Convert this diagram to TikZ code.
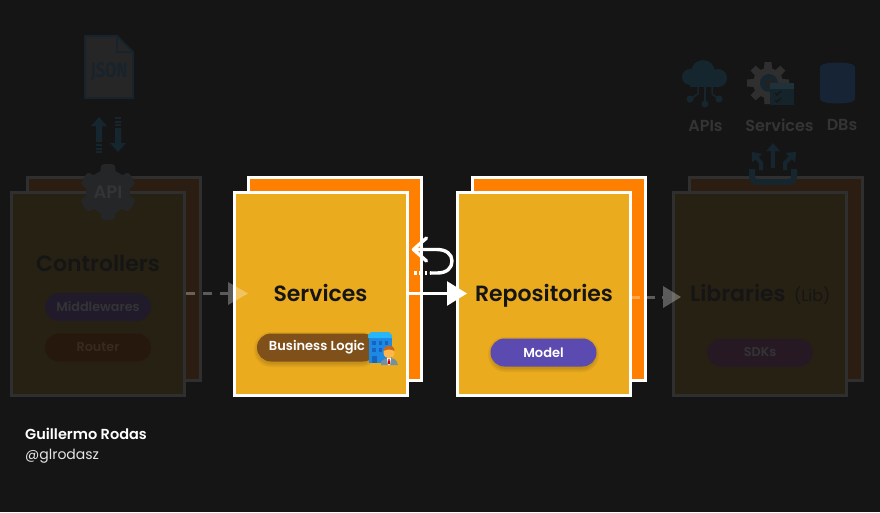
\documentclass[tikz,border=0pt]{standalone}
\usepackage{fontspec}
\setmainfont{Poppins}
\newfontfamily\med{Poppins Medium}
\newfontfamily\semi{Poppins SemiBold}
\newfontfamily\cond{Fira Sans}
\usetikzlibrary{arrows.meta,shapes.misc,calc}
\definecolor{bgc}{HTML}{151515}
\definecolor{yel}{HTML}{EAAB1F}
\definecolor{org}{HTML}{FF7F00}
\definecolor{dimyel}{HTML}{272113}
\definecolor{dimorg}{HTML}{2B1D12}
\definecolor{dimline}{HTML}{2F2F2F}
\definecolor{dimtxt}{HTML}{343434}
\definecolor{dimblue}{HTML}{15262F}
\definecolor{dimdoc}{HTML}{18232B}
\definecolor{dimdb}{HTML}{172436}
\definecolor{docfill}{HTML}{262627}
\definecolor{dimmid}{HTML}{211A2B}
\definecolor{dimrou}{HTML}{27180E}
\definecolor{dimrout}{HTML}{382A20}
\definecolor{dimsdk}{HTML}{261924}
\definecolor{biz}{HTML}{80501B}
\definecolor{mdl}{HTML}{5B4BB0}
\definecolor{gearc}{HTML}{242628}
\definecolor{bldg}{HTML}{1E88E5}
\definecolor{roof}{HTML}{29B6F6}
\definecolor{wind}{HTML}{1565C0}
\definecolor{suit}{HTML}{78909C}
\definecolor{skin}{HTML}{FFB74D}
\definecolor{hair}{HTML}{BF6A1E}
\tikzset{
 x=1pt,y=-1pt,
 card/.style={draw=white,line width=3pt,minimum width=173pt,minimum height=203pt,inner sep=0pt},
 frontcard/.style={card,fill=yel},
 backcard/.style={card,fill=org},
 dimfront/.style={card,draw=dimline,fill=dimyel},
 dimback/.style={card,draw=dimline,fill=dimorg},
 title/.style={inner sep=0pt,anchor=base,font=\semi\fontsize{22}{26}\selectfont,text=bgc},
 pill/.style={rounded rectangle,minimum width=106pt,minimum height=28pt,inner sep=0pt,font=\semi\fontsize{13}{15}\selectfont,text=white},
 dimpill/.style={pill,text=dimtxt,font=\semi\fontsize{12.8}{15}\selectfont},
 ghost/.style={draw=white,draw opacity=.3,line width=3pt,dash pattern=on 9pt off 8pt},
 ghosthead/.style={fill=white,fill opacity=.3},
 strong/.style={draw=white,line width=3.4pt,line cap=round},
 icontext/.style={inner sep=0pt,font=\semi\fontsize{16}{18}\selectfont,text=dimtxt},
 iconline/.style={draw=dimblue,line width=3pt},
 softshadow/.style={fill=black,opacity=.05},
}
\begin{document}
\begin{tikzpicture}
\fill[bgc] (0,0) rectangle (880,512);
\useasboundingbox (0,0) rectangle (880,512);

% cards
\node[dimback] (ctlb) at (114,278.5) {};
\node[dimfront] (ctl) at (98,293.5) {};
\node[backcard] (svcb) at (335,278.5) {};
\node[frontcard] (svc) at (321,293.5) {};
\node[backcard] (repb) at (559,278.5) {};
\node[frontcard] (rep) at (544,293.5) {};
\node[dimback] (libb) at (776,278.5) {};
\node[dimfront] (lib) at (760,293.5) {};

% titles
\node[title] (tctl) at (98,271) {Controllers};
\node[title] (tsvc) at (320.5,301) {Services};
\node[title] (trep) at (544,301) {Repositories};
\node[title,anchor=base west] (tlib) at (690,301) {Libraries};
\node[title,anchor=base west,font=\fontsize{16}{18}\selectfont] (tlib2) at (794,301) {(Lib)};

% pill shadows
\foreach \sg in {0,1.5,3}{
\fill[softshadow,rounded corners=14pt+\sg] (257-\sg,335-\sg) rectangle (375+\sg,364+\sg);
\fill[softshadow,rounded corners=14pt+\sg] (491-\sg,340-\sg) rectangle (596+\sg,369+\sg);
}
% pills
\node[dimpill,fill=dimmid] (mid) at (98,307) {Middlewares};
\node[dimpill,fill=dimrou,text=dimrout] (rou) at (98,347.5) {Router};
\node[dimpill,fill=dimsdk] (sdk) at (760,352.5) {SDKs};
\node[pill,fill=mdl] (mod) at (543.5,352.5) {Model};
\node[pill,fill=biz,minimum width=120pt] (bl) at (317,347.5) {Business Logic};

% emoji: building and person
\fill[bldg] (369,336) rectangle (392,363);
\fill[roof] (368,335) -- (371,332) -- (389,332) -- (392,335) -- (392,338) -- (368,338) -- cycle;
\foreach \wx in {372,378.5,384.5}{\foreach \wy in {341,348}{\fill[wind] (\wx,\wy) rectangle +(3.5,3.5);}}
\fill[wind] (372,356) rectangle (377,363);
\fill[suit] (381,365) -- (381,362) .. controls (383,359) and (386,358) .. (389,358) .. controls (393,358) and (397,359) .. (398,365) -- cycle;
\fill[white] (387,358) -- (391,358) -- (390,365) -- (388,365) -- cycle;
\fill[red!80!black] (388.4,359) -- (389.6,359) -- (390,364) -- (388,364) -- cycle;
\fill[skin] (389,352.5) circle[x radius=5.5pt,y radius=6pt];
\fill[hair] (383.5,351) .. controls (383.5,343.5) and (394.5,343.5) .. (394.5,351) .. controls (391,349) and (387,349) .. (383.5,351) -- cycle;

% connectors
\draw[ghost] (ctl.east) -- ++(42,0);
\fill[ghosthead] (228,282) -- (248,293.5) -- (228,305) -- cycle;
\coordinate (r2) at ($(rep.east)+(0,3.5)$);
\draw[ghost,dash pattern=on 8pt off 7pt] (r2) -- ++(31,0);
\fill[ghosthead] (663,286) -- (681,297) -- (663,308) -- cycle;
\draw[draw=white,line width=2.5pt,-{Triangle[length=20pt,width=24pt]},shorten >=-11pt] (svc.east) -- (rep.west);
% self loop
\coordinate (l0) at (414,273);
\coordinate (l1) at (431,273);
\coordinate (l2) at (413.5,249.5);
\draw[draw=white,line width=3.2pt,dash pattern=on 2.5pt off 2.8pt] (l0) -- (l1);
\draw[strong,line join=round] (l1) -- (437,273) .. controls (447,273) and (452,268) .. (452,261) .. controls (452,254) and (446,249.5) .. (437,249.5) -- (l2);
\draw[strong,line join=round] (426.5,238) -- (l2) -- (426.5,261);

% JSON file
\path[fill=docfill,draw=dimdoc,line width=2pt] (85,36) -- (117,36) -- (133,52) -- (133,98) -- (85,98) -- cycle;
\draw[draw=dimdoc,line width=2pt] (117,36) -- (117,52) -- (133,52);
\node[inner sep=0pt,font=\cond\bfseries\fontsize{21}{22}\selectfont,text=dimdoc,xscale=.78] (json) at (109,72) {JSON};
% up/down arrows
\fill[dimblue] (99,117) -- (107,126) -- (102,126) -- (102,142) -- (96,142) -- (96,126) -- (91,126) -- cycle;
\foreach \sy in {144,147.5,151}{\fill[dimblue] (96,\sy) rectangle (102,\sy+2);}
\fill[dimblue] (118,152) -- (126,143) -- (121,143) -- (121,128) -- (115,128) -- (115,143) -- (110,143) -- cycle;
\foreach \sy in {117,120.5,124}{\fill[dimblue] (115,\sy) rectangle (121,\sy+2);}

% API gear
\fill[gearc] (108,192) circle[radius=22pt];
\foreach \ga in {0,60,...,300}{\fill[gearc,rotate around={\ga:(108,192)},rounded corners=3pt] (99,192) -- (101,164) -- (115,164) -- (117,192) -- cycle;}
\node[inner sep=0pt,font=\semi\fontsize{18}{20}\selectfont,text=dimtxt] (api) at (108,192) {API};

% cloud
\fill[dimblue] (690,77) circle[radius=8pt];
\fill[dimblue] (703,72) circle[radius=12pt];
\fill[dimblue] (718,78) circle[radius=9pt];
\fill[dimblue] (690,74) rectangle (718,87);
\draw[iconline,line width=1.5pt] (705,87) -- (705,104);
\draw[iconline,line width=1.5pt] (698,87) -- (698,94) -- (690,99);
\draw[iconline,line width=1.5pt] (712,87) -- (712,94) -- (719,99);
\foreach \cx/\cy in {690/99,705/104,719/99}{\fill[dimblue] (\cx,\cy) circle[radius=3.5pt];}

% service gear + calendar
\fill[dimline] (768,83) circle[radius=15pt];
\foreach \ga in {0,45,...,315}{\fill[dimline,rotate around={\ga:(768,83)}] (763,83) -- (764.5,62) -- (771.5,62) -- (773,83) -- cycle;}
\fill[dimblue] (769,83) circle[radius=9pt];
\fill[bgc!50!dimline] (770,83) circle[radius=5pt];
\fill[dimblue!85!bgc] (770,83) rectangle (794,105);
\fill[dimblue!95!white] (770,83) rectangle (794,89);
\draw[draw=bgc,line width=1.2pt] (775,93) -- (777,95) -- (781,91);
\draw[draw=bgc,line width=1.2pt] (775,100) -- (777,102) -- (781,98);

% database
\fill[dimdb] (820,67) .. controls (820,61) and (855,61) .. (855,67) -- (855,99) .. controls (855,105) and (820,105) .. (820,99) -- cycle;

% icon labels
\node[icontext] (apis) at (705.5,126) {APIs};
\node[icontext] (svcs) at (779.5,125) {Services};
\node[icontext] (dbs) at (842,125) {DBs};

% share icon
\draw[iconline,line width=6pt] (752,169) -- (752,176) .. controls (752,180) and (754,182) .. (758,182) -- (788,182) .. controls (792,182) and (794,180) .. (794,176) -- (794,169);
\draw[iconline,line width=4pt,-{Triangle[length=8pt,width=13pt]}] (773,168) -- (773,143);
\draw[iconline,line width=4pt,-{Triangle[length=8pt,width=13pt]}] (761,170) -- (761,163) -- (752,152);
\draw[iconline,line width=4pt,-{Triangle[length=8pt,width=13pt]}] (785,170) -- (785,163) -- (796,152);

% credit
\node[anchor=west,inner sep=0pt,text=white,font=\semi\fontsize{14.5}{17}\selectfont] (who) at (25,434) {Guillermo Rodas};
\node[anchor=west,inner sep=0pt,text=white!90!black,font=\fontsize{14}{16}\selectfont] (at) at (25,456.5) {@glrodasz};
\end{tikzpicture}
\end{document}
